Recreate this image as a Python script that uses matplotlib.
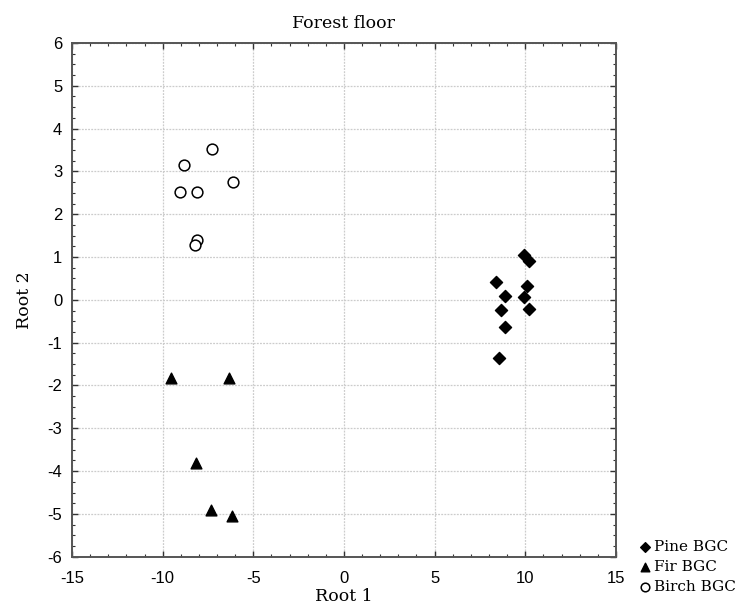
import matplotlib
matplotlib.use("Agg")
import matplotlib.pyplot as plt
from matplotlib.ticker import MultipleLocator

plt.rcParams["axes.unicode_minus"] = False

# ── data ──────────────────────────────────────────────────────────────────────
pine_x = [9.94, 10.22, 8.38, 10.09, 8.90, 9.91, 8.66, 10.22, 8.90, 8.53]
pine_y = [1.05, 0.91, 0.41, 0.33, 0.10, 0.06, -0.23, -0.22, -0.64, -1.36]

fir_x = [-9.54, -6.36, -8.15, -7.34, -6.16]
fir_y = [-1.82, -1.82, -3.80, -4.90, -5.05]

birch_x = [-7.26, -8.81, -9.03, -8.12, -6.14, -8.12, -8.23]
birch_y = [3.53, 3.16, 2.53, 2.53, 2.75, 1.39, 1.28]

SERIF = "DejaVu Serif"
SANS = "Liberation Sans"

fig = plt.figure(figsize=(7.39, 6.05), dpi=100)
ax = fig.add_axes([0.0974, 0.0798, 0.8335 - 0.0974, 0.929 - 0.0798])

# grid
ax.grid(True, which="major", color="#cccccc", linestyle=(0, (1.5, 1.0)), linewidth=0.9)
ax.set_axisbelow(True)

# series
ax.scatter(pine_x, pine_y, marker="D", s=38, color="black", zorder=3, label="Pine BGC")
ax.scatter(fir_x, fir_y, marker="^", s=60, color="black", zorder=3, label="Fir BGC")
ax.scatter(birch_x, birch_y, marker="o", s=60, facecolor="white", edgecolor="black",
           linewidth=1.1, zorder=3, label="Birch BGC")

# axes
ax.set_xlim(-15, 15)
ax.set_ylim(-6, 6)
ax.xaxis.set_major_locator(MultipleLocator(5))
ax.xaxis.set_minor_locator(MultipleLocator(1))
ax.yaxis.set_major_locator(MultipleLocator(1))
ax.yaxis.set_minor_locator(MultipleLocator(0.25))
ax.tick_params(which="both", direction="in", top=True, right=True, color="#333333")
ax.tick_params(which="major", length=4, width=1.0, labelsize=12, pad=7)
ax.tick_params(axis="x", which="major", pad=10)
ax.tick_params(which="minor", length=2.5, width=0.8)
for lab in ax.get_xticklabels() + ax.get_yticklabels():
    lab.set_family(SANS)
for sp in ax.spines.values():
    sp.set_color("#555555")
    sp.set_linewidth(1.4)

ax.set_title("Forest floor", family=SERIF, fontsize=12.5, pad=11)
ax.set_xlabel("Root 1", family=SERIF, fontsize=12.5, labelpad=1.5)
ax.set_ylabel("Root 2", family=SERIF, fontsize=12.5, labelpad=10)

# legend outside, bottom right
fig.legend(loc="center left", bbox_to_anchor=(0.868, 0.0628), frameon=False,
           prop={"family": SERIF, "size": 11}, handlelength=0.5,
           handletextpad=0.3, labelspacing=0.38, borderpad=0, borderaxespad=0,
           markerscale=0.8)

fig.savefig("out.png", dpi=100)
